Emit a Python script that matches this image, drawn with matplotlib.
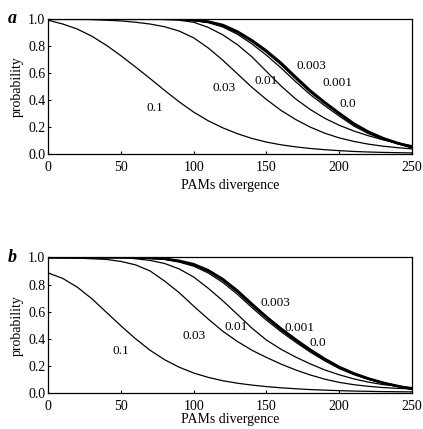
import numpy as np
import matplotlib
matplotlib.use("Agg")
import matplotlib.pyplot as plt

plt.rcParams["font.family"] = ["Liberation Serif", "DejaVu Serif"]

pam = np.arange(0, 251, 10)

# panel a, probability vs PAM divergence, one curve per error rate
a_01 = [0.99, 0.962, 0.925, 0.872, 0.805, 0.728, 0.645, 0.56, 0.472, 0.388, 0.312, 0.248, 0.196,
        0.153, 0.118, 0.091, 0.071, 0.056, 0.044, 0.035, 0.028, 0.022, 0.018, 0.015, 0.013, 0.011]
a_003 = [1.0, 1.0, 0.998, 0.995, 0.99, 0.985, 0.975, 0.962, 0.942, 0.91, 0.86, 0.785, 0.695,
         0.595, 0.495, 0.405, 0.325, 0.258, 0.202, 0.157, 0.122, 0.096, 0.076, 0.061, 0.05, 0.041]
a_001 = [1.0, 1.0, 1.0, 1.0, 1.0, 1.0, 1.0, 1.0, 0.995, 0.99, 0.975, 0.937, 0.882,
         0.81, 0.72, 0.612, 0.505, 0.41, 0.332, 0.267, 0.215, 0.173, 0.138, 0.108, 0.085, 0.065]
a_0003 = [1.0, 1.0, 1.0, 1.0, 1.0, 1.0, 1.0, 1.0, 1.0, 1.0, 0.99, 0.98, 0.955,
          0.907, 0.842, 0.765, 0.675, 0.572, 0.472, 0.385, 0.305, 0.228, 0.168, 0.121, 0.085, 0.055]
a_0001 = [1.0, 1.0, 1.0, 1.0, 1.0, 1.0, 1.0, 1.0, 1.0, 1.0, 0.99, 0.978, 0.95,
          0.9, 0.834, 0.756, 0.665, 0.562, 0.463, 0.378, 0.299, 0.222, 0.163, 0.117, 0.082, 0.053]
a_00 = [1.0, 1.0, 1.0, 1.0, 1.0, 1.0, 1.0, 1.0, 1.0, 0.998, 0.987, 0.972, 0.94,
        0.887, 0.815, 0.732, 0.638, 0.537, 0.442, 0.36, 0.283, 0.21, 0.154, 0.111, 0.078, 0.05]

# panel b
b_01 = [0.885, 0.845, 0.78, 0.695, 0.595, 0.495, 0.40, 0.315, 0.245, 0.19, 0.147, 0.115, 0.09,
        0.072, 0.058, 0.047, 0.038, 0.031, 0.025, 0.021, 0.017, 0.014, 0.012, 0.01, 0.009, 0.008]
b_003 = [1.0, 0.998, 0.995, 0.99, 0.985, 0.97, 0.945, 0.90, 0.825, 0.74, 0.64, 0.545, 0.455,
         0.38, 0.315, 0.262, 0.213, 0.17, 0.133, 0.102, 0.078, 0.061, 0.049, 0.04, 0.034, 0.03]
b_001 = [1.0, 1.0, 1.0, 1.0, 1.0, 1.0, 0.99, 0.978, 0.955, 0.915, 0.855, 0.772, 0.68,
         0.58, 0.478, 0.39, 0.322, 0.265, 0.215, 0.17, 0.134, 0.104, 0.08, 0.062, 0.05, 0.04]
b_0003 = [1.0, 1.0, 1.0, 1.0, 1.0, 1.0, 1.0, 0.995, 0.99, 0.975, 0.95, 0.905, 0.84,
          0.755, 0.657, 0.562, 0.475, 0.395, 0.32, 0.252, 0.192, 0.145, 0.107, 0.076, 0.052, 0.03]
b_0001 = [1.0, 1.0, 1.0, 1.0, 1.0, 1.0, 1.0, 0.995, 0.99, 0.972, 0.945, 0.898, 0.832,
          0.746, 0.648, 0.554, 0.467, 0.388, 0.314, 0.247, 0.188, 0.142, 0.104, 0.074, 0.05, 0.029]
b_00 = [1.0, 1.0, 1.0, 1.0, 1.0, 1.0, 0.998, 0.993, 0.985, 0.965, 0.935, 0.885, 0.815,
        0.728, 0.63, 0.537, 0.452, 0.375, 0.302, 0.237, 0.18, 0.135, 0.1, 0.07, 0.047, 0.028]

rates = ["0.1", "0.03", "0.01", "0.003", "0.001", "0.0"]
widths = [0.9, 0.9, 0.9, 1.8, 1.5, 0.9]

a_curves = [a_01, a_003, a_001, a_0003, a_0001, a_00]
b_curves = [b_01, b_003, b_001, b_0003, b_0001, b_00]

a_label_pos = [(73, 0.34), (121, 0.49), (150, 0.54), (181, 0.65), (199, 0.525), (206, 0.37)]
b_label_pos = [(50, 0.31), (100, 0.42), (129, 0.49), (156, 0.66), (173, 0.48), (185, 0.37)]

fig = plt.figure(figsize=(4.23, 4.29), dpi=100)
ax_a = fig.add_axes([0.114, 0.640, 0.860, 0.316])
ax_b = fig.add_axes([0.114, 0.084, 0.860, 0.316])

for ax, curves, label_pos, letter, xpad in [(ax_a, a_curves, a_label_pos, "a", 3),
                                            (ax_b, b_curves, b_label_pos, "b", 0)]:
    for vals, lw in zip(curves, widths):
        ax.plot(pam, vals, color="black", lw=lw)
    for (lx, ly), txt in zip(label_pos, rates):
        ax.text(lx, ly, txt, fontsize=9.5, ha="center", va="center")
    ax.set_xlim(0, 250)
    ax.set_ylim(0, 1.0)
    ax.set_xticks([0, 50, 100, 150, 200, 250])
    ax.set_yticks([0.0, 0.2, 0.4, 0.6, 0.8, 1.0])
    ax.set_yticklabels(["0.0", "0.2", "0.4", "0.6", "0.8", "1.0"])
    ax.tick_params(direction="in", length=2, labelsize=10, pad=2)
    ax.tick_params(axis="x", pad=5)
    ax.set_xlabel("PAMs divergence", fontsize=10, labelpad=xpad)
    ax.set_ylabel("probability", fontsize=10, labelpad=3)
    for s in ax.spines.values():
        s.set_linewidth(0.9)
    ax.text(-0.1, 1.0, letter, transform=ax.transAxes, fontsize=13,
            fontstyle="italic", fontweight="bold", ha="center", va="center")

fig.savefig("out.png", dpi=100)
